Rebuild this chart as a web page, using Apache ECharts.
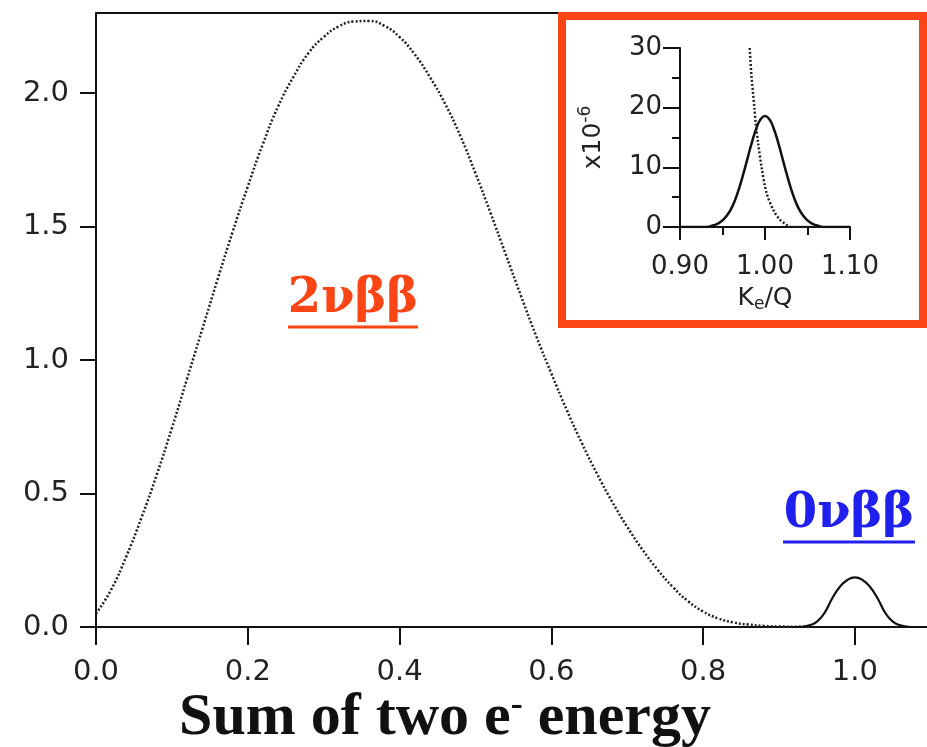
<!DOCTYPE html>
<html>
<head>
<meta charset="utf-8">
<script src="https://cdn.jsdelivr.net/npm/echarts@6/dist/echarts.min.js"></script>
<style>
  html, body { margin: 0; padding: 0; background: #fff; }
  #chart { width: 927px; height: 747px; }
</style>
</head>
<body>
<div id="chart"></div>
<script>
// main panel: sum energy / Q
const twoNuX = [0.00, 0.02, 0.04, 0.06, 0.08, 0.10, 0.12, 0.14, 0.16, 0.18, 0.20, 0.22, 0.24, 0.26, 0.28, 0.30,
  0.32, 0.34, 0.36, 0.38, 0.40, 0.42, 0.44, 0.46, 0.48, 0.50, 0.52, 0.54, 0.56, 0.58, 0.60, 0.62, 0.64,
  0.66, 0.68, 0.70, 0.72, 0.74, 0.76, 0.78, 0.80, 0.82, 0.84, 0.86, 0.88, 0.90, 0.92, 0.94];
const twoNuY = [0.05, 0.14, 0.265, 0.41, 0.57, 0.745, 0.93, 1.115, 1.30, 1.48, 1.65, 1.81, 1.95, 2.06, 2.15, 2.21,
  2.25, 2.268, 2.27, 2.252, 2.21, 2.145, 2.06, 1.96, 1.84, 1.70, 1.55, 1.395, 1.24, 1.09, 0.95, 0.815, 0.69,
  0.575, 0.47, 0.375, 0.29, 0.215, 0.15, 0.097, 0.058, 0.032, 0.017, 0.009, 0.004, 0.002, 0.001, 0.0];
const zeroNuX = [0.92, 0.93, 0.94, 0.95, 0.96, 0.97, 0.98, 0.99, 1.00, 1.01, 1.02, 1.03, 1.04, 1.05, 1.06, 1.07, 1.08];
const zeroNuY = [0, 0.001, 0.006, 0.020, 0.053, 0.107, 0.150, 0.176, 0.186, 0.176, 0.150, 0.107, 0.053, 0.020, 0.006, 0.001, 0];
const xTicks = [0, 0.2, 0.4, 0.6, 0.8, 1.0];
const yTicks = [0, 0.5, 1.0, 1.5, 2.0];

// inset: Ke/Q, units of 1e-6
const insetTwoNuX = [0.982, 0.984, 0.9875, 0.989, 0.992, 0.996, 1.002, 1.010, 1.017, 1.024, 1.031, 1.06];
const insetTwoNuY = [30, 25.5, 20, 17.5, 14, 10, 5.6, 2.8, 1.3, 0.5, 0, 0];
const insetZeroNuX = [0.90, 0.93, 0.935, 0.94, 0.945, 0.95, 0.955, 0.96, 0.965, 0.97, 0.975, 0.98, 0.985, 0.99, 0.995,
  1.00, 1.005, 1.01, 1.015, 1.02, 1.025, 1.03, 1.035, 1.04, 1.045, 1.05, 1.055, 1.06, 1.065, 1.07, 1.10];
const insetZeroNuY = [0, 0, 0.1, 0.3, 0.6, 1.1, 1.9, 3.0, 4.6, 6.7, 9.15, 11.8, 14.4, 16.6, 18.1,
  18.6, 18.1, 16.6, 14.4, 11.8, 9.15, 6.7, 4.6, 3.0, 1.9, 1.1, 0.6, 0.3, 0.1, 0, 0];

const pairs = (xs, ys) => xs.map((x, i) => [x, ys[i]]);

const tickFont = { fontFamily: 'DejaVu Sans', color: '#222' };
const axisLine = { show: true, onZero: false, lineStyle: { color: '#111', width: 2 } };
const nameRich = {
  a: { fontFamily: 'DejaVu Sans', fontSize: 25, color: '#222', lineHeight: 26 },
  up: { fontFamily: 'DejaVu Sans', fontSize: 17, color: '#222', lineHeight: 14, padding: [0, 0, 14, 0] },
  dn: { fontFamily: 'DejaVu Sans', fontSize: 17, color: '#222', lineHeight: 14, padding: [14, 0, 0, 0] }
};

const chart = echarts.init(document.getElementById('chart'));
chart.setOption({
  backgroundColor: '#fff',
  animation: false,
  grid: [
    { left: 96, top: 13, width: 831, height: 614 },
    { left: 680, top: 48, width: 170, height: 179 }
  ],
  xAxis: [
    {
      gridIndex: 0, type: 'value', min: 0, max: 1.095,
      axisLine: axisLine,
      axisTick: { show: true, length: 18, customValues: xTicks, lineStyle: { color: '#111', width: 2 } },
      axisLabel: Object.assign({ fontSize: 29, margin: 31, customValues: xTicks,
        formatter: v => v.toFixed(1) }, tickFont),
      splitLine: { show: false }
    },
    {
      gridIndex: 1, type: 'value', min: 0.9, max: 1.1, interval: 0.1,
      axisLine: axisLine,
      axisTick: { show: true, length: 13, lineStyle: { color: '#111', width: 2 } },
      minorTick: { show: true, splitNumber: 2, length: 8, lineStyle: { color: '#111', width: 2 } },
      axisLabel: Object.assign({ fontSize: 26, margin: 27, formatter: v => v.toFixed(2) }, tickFont),
      splitLine: { show: false },
      name: '{a|K}{dn|e}{a|/Q}', nameLocation: 'middle', nameGap: 58,
      nameTextStyle: { rich: nameRich }
    }
  ],
  yAxis: [
    {
      gridIndex: 0, type: 'value', min: 0, max: 2.3,
      axisLine: axisLine,
      axisTick: { show: true, length: 16, customValues: yTicks, lineStyle: { color: '#111', width: 2 } },
      axisLabel: Object.assign({ fontSize: 29, margin: 27, customValues: yTicks,
        formatter: v => v.toFixed(1) }, tickFont),
      splitLine: { show: false }
    },
    {
      gridIndex: 1, type: 'value', min: 0, max: 30, interval: 10,
      axisLine: axisLine,
      axisTick: { show: true, length: 17, lineStyle: { color: '#111', width: 2 } },
      minorTick: { show: true, splitNumber: 2, length: 8, lineStyle: { color: '#111', width: 2 } },
      axisLabel: Object.assign({ fontSize: 26, margin: 18 }, tickFont),
      splitLine: { show: false },
      name: '{a|x10}{up|-6}', nameLocation: 'middle', nameGap: 74,
      nameTextStyle: { rich: nameRich }
    }
  ],
  series: [
    {
      type: 'line', xAxisIndex: 0, yAxisIndex: 0, data: pairs(twoNuX, twoNuY),
      smooth: true, showSymbol: false,
      lineStyle: { color: '#222', width: 2.5, type: [2, 2] }
    },
    {
      type: 'line', xAxisIndex: 0, yAxisIndex: 0, data: pairs(zeroNuX, zeroNuY),
      smooth: true, showSymbol: false,
      lineStyle: { color: '#111', width: 2.2 }
    },
    {
      type: 'line', xAxisIndex: 1, yAxisIndex: 1, data: pairs(insetTwoNuX, insetTwoNuY),
      smooth: 0.3, showSymbol: false,
      lineStyle: { color: '#222', width: 2.5, type: [2, 2] }
    },
    {
      type: 'line', xAxisIndex: 1, yAxisIndex: 1, data: pairs(insetZeroNuX, insetZeroNuY),
      smooth: true, showSymbol: false,
      lineStyle: { color: '#111', width: 2.5 }
    }
  ],
  graphic: [
    // top frame line of the main plot
    { type: 'line', shape: { x1: 96, y1: 13, x2: 560, y2: 13 }, style: { stroke: '#111', lineWidth: 2 } },
    // inset frame
    { type: 'rect', shape: { x: 562, y: 16, width: 361, height: 308 },
      style: { fill: 'transparent', stroke: '#fb4514', lineWidth: 8 } },
    // annotations
    { type: 'text', x: 353, y: 300,
      style: { text: '2νββ', fill: '#fb4514', font: 'bold 48px "DejaVu Serif"', align: 'center', verticalAlign: 'middle' } },
    { type: 'line', shape: { x1: 288, y1: 327, x2: 418, y2: 327 }, style: { stroke: '#fb4514', lineWidth: 3 } },
    { type: 'text', x: 849, y: 515,
      style: { text: '0νββ', fill: '#2020ee', font: 'bold 48px "DejaVu Serif"', align: 'center', verticalAlign: 'middle' } },
    { type: 'line', shape: { x1: 783, y1: 542, x2: 915, y2: 542 }, style: { stroke: '#2020ee', lineWidth: 3 } },
    // x title
    { type: 'text', x: 445, y: 718,
      style: {
        text: '{t|Sum of two e}{s|-}{t| energy}', align: 'center', verticalAlign: 'middle',
        rich: {
          t: { fontFamily: 'Liberation Serif', fontWeight: 'bold', fontSize: 60, fill: '#111', lineHeight: 60 },
          s: { fontFamily: 'Liberation Serif', fontWeight: 'bold', fontSize: 36, fill: '#111', lineHeight: 36, verticalAlign: 'top' }
        }
      } }
  ]
});
</script>
</body>
</html>
